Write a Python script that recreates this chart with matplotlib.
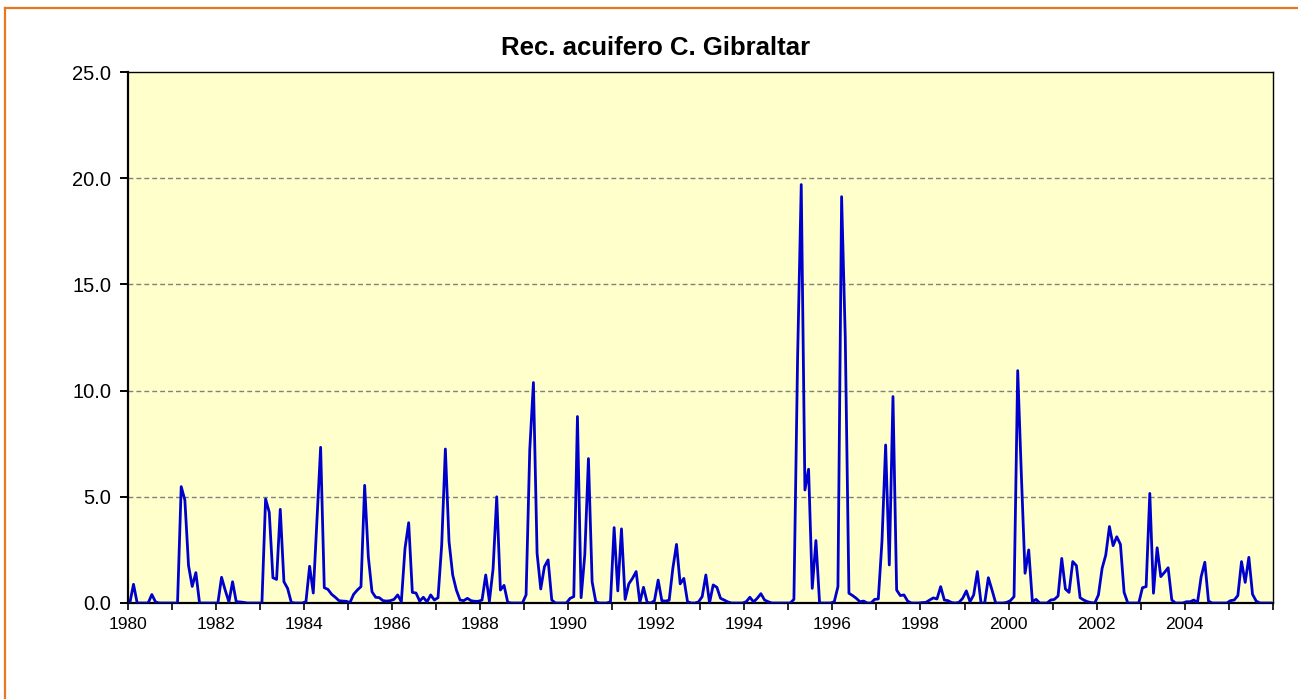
import numpy as np
import matplotlib.pyplot as plt
from matplotlib.lines import Line2D
from matplotlib.ticker import FormatStrFormatter

TITULO = "Rec. acuifero C. Gibraltar"
ANIO_INICIO = 1980
ANIO_FIN = 2006
ETIQUETAS = list(range(1980, 2005, 2))
Y_TICKS = [0, 5, 10, 15, 20, 25]

# recarga mensual, una fila por año (12 meses)
recarga = [
    0.00, 0.88, 0.00, 0.00, 0.00, 0.00, 0.40, 0.05, 0.00, 0.00, 0.00, 0.00,  # 1980
    0.00, 0.00, 5.48, 4.85, 1.76, 0.78, 1.43, 0.00, 0.00, 0.00, 0.00, 0.00,  # 1981
    0.00, 1.21, 0.60, 0.05, 1.00, 0.06, 0.05, 0.03, 0.00, 0.00, 0.00, 0.00,  # 1982
    0.00, 4.90, 4.27, 1.19, 1.11, 4.41, 1.00, 0.69, 0.03, 0.00, 0.00, 0.00,  # 1983
    0.06, 1.73, 0.47, 3.90, 7.33, 0.72, 0.64, 0.41, 0.27, 0.11, 0.09, 0.08,  # 1984
    0.02, 0.41, 0.61, 0.77, 5.54, 2.18, 0.53, 0.27, 0.25, 0.11, 0.09, 0.11,  # 1985
    0.17, 0.38, 0.06, 2.57, 3.78, 0.50, 0.47, 0.09, 0.27, 0.05, 0.38, 0.14,  # 1986
    0.25, 2.73, 7.25, 2.89, 1.32, 0.61, 0.14, 0.11, 0.22, 0.11, 0.08, 0.08,  # 1987
    0.14, 1.32, 0.08, 1.60, 5.00, 0.61, 0.83, 0.03, 0.00, 0.00, 0.00, 0.00,  # 1988
    0.38, 7.20, 10.38, 2.34, 0.66, 1.71, 2.03, 0.14, 0.00, 0.00, 0.00, 0.00,  # 1989
    0.22, 0.30, 8.78, 0.25, 2.26, 6.80, 1.00, 0.06, 0.00, 0.00, 0.00, 0.06,  # 1990
    3.55, 0.57, 3.49, 0.17, 0.90, 1.16, 1.48, 0.02, 0.74, 0.03, 0.00, 0.11,  # 1991
    1.08, 0.11, 0.09, 0.13, 1.63, 2.76, 0.90, 1.16, 0.06, 0.00, 0.00, 0.05,  # 1992
    0.30, 1.32, 0.00, 0.85, 0.74, 0.22, 0.14, 0.05, 0.00, 0.00, 0.00, 0.00,  # 1993
    0.06, 0.27, 0.05, 0.22, 0.44, 0.14, 0.06, 0.00, 0.00, 0.00, 0.00, 0.00,  # 1994
    0.00, 0.17, 11.50, 19.70, 5.32, 6.30, 0.69, 2.94, 0.00, 0.00, 0.00, 0.00,  # 1995
    0.06, 0.77, 19.13, 12.50, 0.46, 0.35, 0.22, 0.06, 0.09, 0.00, 0.00, 0.17,  # 1996
    0.19, 2.89, 7.44, 1.79, 9.72, 0.61, 0.35, 0.38, 0.09, 0.00, 0.00, 0.00,  # 1997
    0.02, 0.03, 0.14, 0.24, 0.19, 0.77, 0.14, 0.11, 0.02, 0.00, 0.03, 0.22,  # 1998
    0.57, 0.06, 0.38, 1.48, 0.00, 0.00, 1.19, 0.61, 0.00, 0.00, 0.00, 0.03,  # 1999
    0.11, 0.30, 10.94, 6.00, 1.40, 2.50, 0.06, 0.17, 0.00, 0.00, 0.00, 0.14,  # 2000
    0.17, 0.33, 2.10, 0.66, 0.50, 1.95, 1.76, 0.25, 0.14, 0.06, 0.02, 0.00,  # 2001
    0.38, 1.63, 2.26, 3.60, 2.70, 3.12, 2.76, 0.50, 0.00, 0.00, 0.00, 0.00,  # 2002
    0.72, 0.77, 5.16, 0.46, 2.60, 1.24, 1.44, 1.66, 0.14, 0.00, 0.00, 0.00,  # 2003
    0.06, 0.06, 0.14, 0.02, 1.24, 1.92, 0.09, 0.00, 0.00, 0.00, 0.00, 0.00,  # 2004
    0.11, 0.14, 0.35, 1.95, 0.97, 2.15, 0.41, 0.09, 0.00, 0.00, 0.00, 0.00,  # 2005
]

W, H = 1298, 699
fig = plt.figure(figsize=(W / 100, H / 100), dpi=100)
fig.patch.set_facecolor("white")

# marco naranja del gráfico (solo se ven arriba e izquierda)
fig.add_artist(Line2D([5 / W, 1.0], [1 - 8 / H, 1 - 8 / H], color="#E8771E", lw=1.6,
                      transform=fig.transFigure))
fig.add_artist(Line2D([5 / W, 5 / W], [0.0, 1 - 8 / H], color="#E8771E", lw=1.6,
                      transform=fig.transFigure))

ax = fig.add_axes([128 / W, (H - 603) / H, 1144.7 / W, 531 / H])
ax.set_facecolor("#FFFFCC")

# puntos centrados en cada mes
x = ANIO_INICIO + (np.arange(len(recarga)) + 0.5) / 12
ax.plot(x, recarga, color="#0000CC", lw=2.0, zorder=3)

ax.set_xlim(ANIO_INICIO, ANIO_FIN)
ax.set_ylim(0, 25)
ax.set_yticks(Y_TICKS)
ax.yaxis.set_major_formatter(FormatStrFormatter("%.1f"))
anios = list(range(ANIO_INICIO, ANIO_FIN + 1))
ax.set_xticks(anios)
ax.set_xticklabels([str(a) if a in ETIQUETAS else "" for a in anios])

for v in Y_TICKS[1:-1]:
    ax.axhline(v, color="#808080", lw=1.0, ls=(0, (3.5, 2.2)), zorder=1)

for sp in ax.spines.values():
    sp.set_color("black")
    sp.set_linewidth(1.0)
ax.spines["left"].set_linewidth(1.6)
ax.spines["bottom"].set_linewidth(1.6)

ax.tick_params(axis="y", direction="out", length=6, width=1.4, labelsize=14.5, pad=6)
ax.tick_params(axis="x", direction="out", length=5, width=1.2, labelsize=12.5, pad=5)
for lab in ax.get_xticklabels() + ax.get_yticklabels():
    lab.set_fontfamily("Liberation Sans")

fig.text(656 / W, 1 - 48 / H, TITULO, ha="center", va="center", fontsize=18.5,
         fontweight="bold", family="Liberation Sans")

fig.savefig("out.png", dpi=100)
